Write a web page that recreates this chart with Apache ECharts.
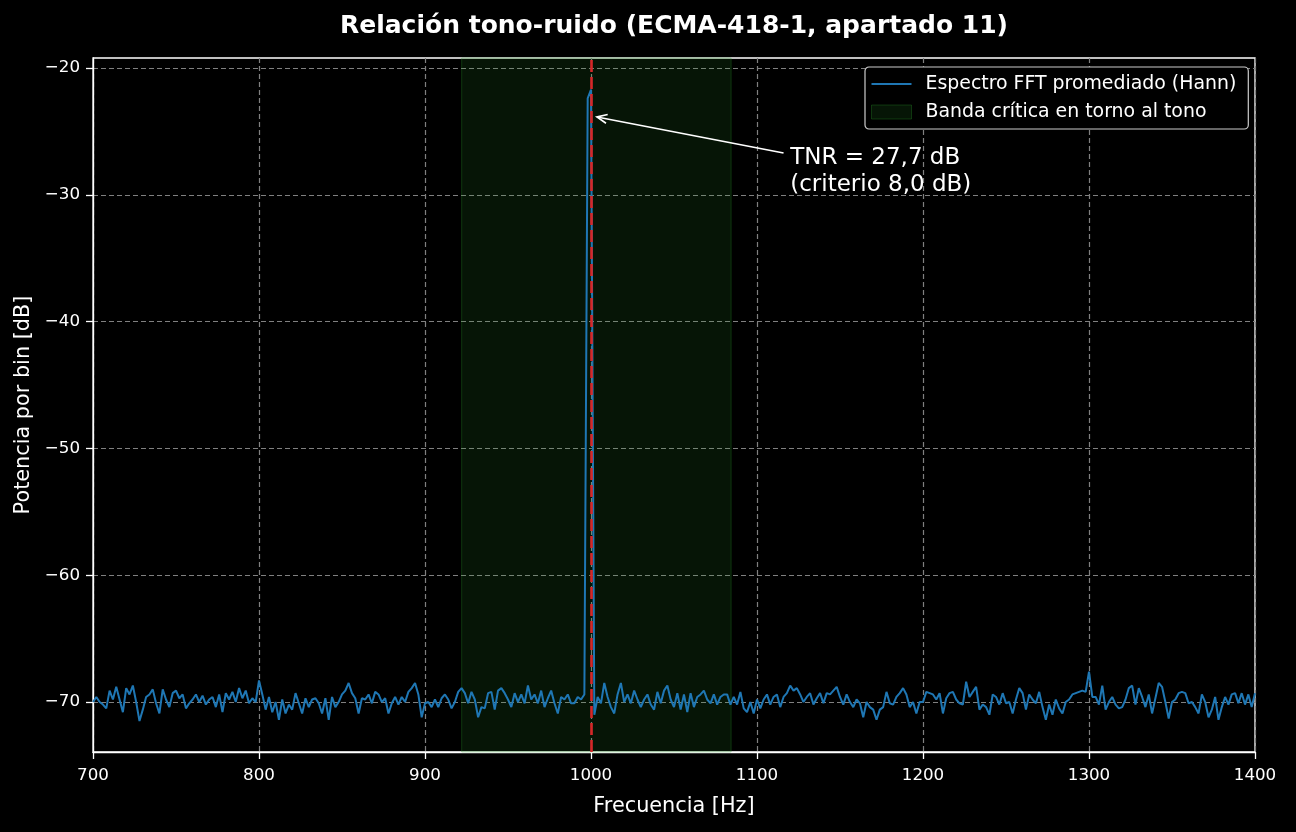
<!DOCTYPE html>
<html><head><meta charset="utf-8">
<script src="https://cdn.jsdelivr.net/npm/echarts@6/dist/echarts.min.js"></script>
<style>html,body{margin:0;padding:0;background:#000;}#c{width:1296px;height:832px;}</style>
</head><body><div id="c"></div>
<script>
// ---- data ----
const FREQ_START = 700;   // Hz, first bin shown
const FREQ_STEP = 2;      // Hz between plotted bins
const levelDb = [
  // 700 .. 872 Hz
  -70.0,-69.6,-70.0,-70.2,-70.5,-69.1,-69.8,-68.8,-69.8,-70.8,
  -68.9,-69.4,-68.7,-70.0,-71.5,-70.6,-69.6,-69.4,-69.0,-70.1,
  -70.9,-69.0,-69.8,-70.4,-69.3,-69.1,-69.7,-69.4,-70.5,-70.1,
  -69.8,-69.4,-70.0,-69.5,-70.2,-69.8,-69.6,-70.4,-69.4,-70.8,
  -69.3,-69.8,-69.2,-70.0,-68.9,-69.7,-69.1,-70.1,-69.7,-70.0,
  -68.3,-69.4,-70.6,-69.6,-70.8,-70.0,-71.4,-69.8,-70.9,-70.2,
  -70.6,-69.3,-70.1,-70.9,-69.7,-70.4,-69.8,-69.7,-70.1,-70.9,
  -69.7,-71.4,-69.6,-70.4,-70.0,-69.4,-69.1,-68.5,-69.3,-69.7,
  -70.9,-69.7,-69.8,-69.4,-70.1,-69.2,-69.4,
  // 874 .. 996 Hz
  -70.0,-69.7,-70.9,-70.1,-69.6,-70.2,-69.6,-70.0,-69.2,-68.9,
  -68.5,-69.4,-71.2,-70.1,-70.0,-70.4,-69.8,-70.4,-69.7,-69.4,
  -69.8,-70.5,-70.0,-69.2,-68.9,-69.3,-70.1,-69.2,-69.8,-71.2,
  -70.4,-70.5,-69.3,-69.2,-70.6,-69.1,-68.9,-69.3,-69.8,-70.4,
  -69.3,-70.0,-69.4,-70.1,-68.7,-69.8,-69.4,-70.1,-69.1,-70.4,
  -69.7,-69.1,-70.1,-70.9,-69.6,-69.8,-69.4,-70.1,-70.1,-69.6,
  -69.8,-69.4,
  // 998, 1000 Hz (tone)
  -22.4,-21.7,
  // 1002 .. 1050 Hz
  -71.0,-69.6,-70.1,-68.5,-69.6,-70.4,-70.9,-69.4,-68.5,-70.0,
  -69.4,-70.1,-69.1,-69.8,-70.4,-69.8,-69.4,-70.2,-70.6,-69.2,
  -70.1,-69.1,-68.7,-69.8,-70.4,
  // 1052 .. 1224 Hz
  -69.3,-70.6,-69.4,-70.8,-69.3,-70.4,-69.6,-69.4,-69.1,-69.8,
  -70.1,-69.4,-70.2,-69.6,-69.4,-69.4,-70.2,-69.6,-70.2,-69.2,
  -70.5,-70.8,-70.0,-70.9,-69.8,-70.5,-69.8,-69.4,-70.2,-69.6,
  -69.4,-70.4,-69.6,-69.3,-68.7,-69.1,-68.9,-69.4,-70.0,-69.6,
  -69.3,-70.2,-69.7,-69.3,-70.1,-69.3,-69.4,-69.1,-68.8,-69.6,
  -70.2,-69.4,-70.0,-70.4,-69.8,-70.1,-71.2,-70.0,-70.4,-70.6,
  -71.4,-70.6,-70.4,-69.2,-70.1,-70.2,-69.6,-69.3,-68.9,-69.4,
  -70.4,-70.0,-70.9,-70.0,-70.0,-69.2,-69.3,-69.4,-69.8,-69.3,
  -70.9,-69.7,-69.3,-69.2,-69.8,-70.1,-70.2,
  // 1226 .. 1400 Hz
  -68.4,-69.6,-69.2,-68.8,-70.6,-70.2,-70.4,-71.0,-69.4,-69.6,
  -70.2,-69.3,-70.1,-70.0,-70.9,-69.8,-68.9,-69.3,-70.6,-69.4,
  -69.8,-70.1,-69.2,-70.4,-71.4,-70.2,-71.0,-69.8,-70.5,-70.9,
  -70.0,-69.8,-69.4,-69.3,-69.2,-69.1,-69.2,
  -67.6,
  -69.6,-69.6,-70.2,-68.7,-70.6,-70.0,-69.6,-70.2,-70.5,-70.4,
  -69.8,-68.9,-68.7,-70.2,-68.9,-69.6,-70.4,-69.4,-70.9,-69.7,
  -68.5,-68.8,-70.0,-71.3,-70.0,-69.8,-69.3,-69.2,-69.3,-70.1,
  -70.0,-70.4,-70.9,-69.4,-70.0,-71.2,-70.6,-69.6,-71.4,-70.4,
  -69.6,-70.2,-69.4,-69.3,-70.1,-69.3,-70.2,-69.4,-70.4,-69.3
];
const xTicks = [700, 800, 900, 1000, 1100, 1200, 1300, 1400];
const yTicks = [-70, -60, -50, -40, -30, -20];
const xRange = [700, 1400];
const yRange = [-73.94, -19.21];
const toneHz = 1000;
const criticalBand = [922.1, 1084.4];
const seriesNames = ['Espectro FFT promediado (Hann)', 'Banda crítica en torno al tono'];
const titleText = 'Relación tono-ruido (ECMA-418-1, apartado 11)';
const xName = 'Frecuencia [Hz]';
const yName = 'Potencia por bin [dB]';
const annotationLines = ['TNR = 27,7 dB', '(criterio 8,0 dB)'];
const arrowTip = [1003.6, -23.86];
const arrowTail = [1116, -26.7];
const textAnchor = [1120, -26.0];

// ---- chart ----
const FONT = 'DejaVu Sans';
const chart = echarts.init(document.getElementById('c'), null, {renderer: 'canvas'});
const spectrum = levelDb.map((v, i) => [FREQ_START + i * FREQ_STEP, v]);
const fmtMinus = v => String(v).replace('-', '\u2212');
const fmtPlain = v => String(v);

const option = {
  backgroundColor: '#000000',
  animation: false,
  title: {
    text: titleText, left: 674, top: 14, textAlign: 'center', padding: 0,
    textStyle: {color: '#ffffff', fontFamily: FONT, fontWeight: 'bold', fontSize: 25}
  },
  grid: {left: 93, right: 41, top: 58, bottom: 80, show: true, borderColor: '#ffffff', borderWidth: 1.3, backgroundColor: 'transparent'},
  legend: {
    orient: 'vertical', left: 865, top: 67,
    padding: [7, 12, 7, 6], itemGap: 8, itemWidth: 40, itemHeight: 14,
    backgroundColor: '#000000', borderColor: '#cccccc', borderWidth: 1.2, borderRadius: 4,
    textStyle: {color: '#ffffff', fontFamily: FONT, fontSize: 18.9, lineHeight: 20, padding: [0, 0, 0, 9]},
    data: [
      {name: seriesNames[0], icon: 'path://M0,0 L40,0 L40,2.2 L0,2.2 Z', itemStyle: {color: '#1f77b4'}},
      {name: seriesNames[1], icon: 'rect', itemStyle: {color: 'rgba(44,160,44,0.13)', borderColor: 'rgba(44,160,44,0.3)', borderWidth: 1}}
    ]
  },
  xAxis: {
    type: 'value', min: xRange[0], max: xRange[1], interval: 100,
    name: xName, nameLocation: 'middle', nameGap: 44,
    nameTextStyle: {color: '#ffffff', fontFamily: FONT, fontSize: 20.8},
    axisLine: {show: true, lineStyle: {color: '#ffffff', width: 1.3}},
    axisTick: {show: true, length: 7, lineStyle: {color: '#ffffff', width: 1.3}},
    axisLabel: {color: '#ffffff', fontFamily: FONT, fontSize: 16.7, margin: 15, customValues: xTicks, formatter: fmtPlain},
    splitLine: {show: true, lineStyle: {color: '#808080', width: 1.2, type: [5, 3]}}
  },
  yAxis: {
    type: 'value', min: yRange[0], max: yRange[1],
    name: yName, nameLocation: 'middle', nameGap: 57, nameRotate: 90,
    nameTextStyle: {color: '#ffffff', fontFamily: FONT, fontSize: 20.8},
    axisLine: {show: true, lineStyle: {color: '#ffffff', width: 1.3}},
    axisTick: {show: true, length: 7, lineStyle: {color: '#ffffff', width: 1.3}, customValues: yTicks},
    axisLabel: {color: '#ffffff', fontFamily: FONT, fontSize: 16.7, margin: 13, customValues: yTicks, formatter: fmtMinus},
    splitLine: {show: true, lineStyle: {color: '#808080', width: 1.2, type: [5, 3]}}
  },
  series: [
    {
      name: seriesNames[0], type: 'line', data: spectrum, symbol: 'none', z: 3,
      lineStyle: {color: '#1f77b4', width: 2}, itemStyle: {color: '#1f77b4'},
      markArea: {
        silent: true, z: 1,
        itemStyle: {color: 'rgba(44,160,44,0.13)', borderColor: 'rgba(44,160,44,0.3)', borderWidth: 1},
        data: [[{xAxis: criticalBand[0]}, {xAxis: criticalBand[1]}]]
      },
      markLine: {
        silent: true, symbol: ['none', 'none'], z: 5,
        label: {show: false},
        lineStyle: {color: '#d62728', width: 2.6, type: [12, 5]},
        data: [{xAxis: toneHz}]
      }
    },
    {
      name: seriesNames[1], type: 'line', data: [], symbol: 'none',
      itemStyle: {color: 'rgba(44,160,44,0.13)'}
    }
  ]
};
chart.setOption(option);

function drawAnnotation() {
  const tip = chart.convertToPixel({gridIndex: 0}, arrowTip);
  const tail = chart.convertToPixel({gridIndex: 0}, arrowTail);
  const txt = chart.convertToPixel({gridIndex: 0}, textAnchor);
  const ang = Math.atan2(tail[1] - tip[1], tail[0] - tip[0]);
  const L = 11, th = 0.42;
  const h1 = [tip[0] + L * Math.cos(ang + th), tip[1] + L * Math.sin(ang + th)];
  const h2 = [tip[0] + L * Math.cos(ang - th), tip[1] + L * Math.sin(ang - th)];
  chart.setOption({
    graphic: [
      {type: 'line', z: 10, shape: {x1: tail[0], y1: tail[1], x2: tip[0], y2: tip[1]}, style: {stroke: '#ffffff', lineWidth: 1.7}},
      {type: 'polyline', z: 10, shape: {points: [h1, tip, h2]}, style: {stroke: '#ffffff', lineWidth: 1.7, fill: null}},
      {type: 'text', z: 10, x: txt[0], y: txt[1], style: {
        text: annotationLines.join('\n'), fill: '#ffffff', font: '23px "DejaVu Sans"',
        lineHeight: 27, align: 'left', verticalAlign: 'top'}}
    ]
  });
}
drawAnnotation();
</script>
</body></html>
